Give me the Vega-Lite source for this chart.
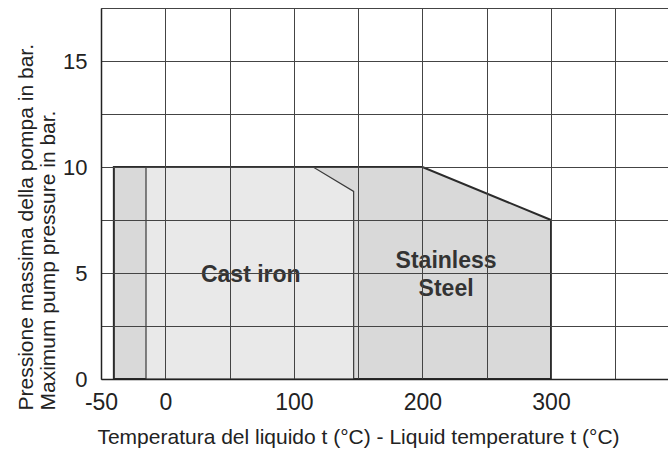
{
  "$schema": "https://vega.github.io/schema/vega-lite/v6.json",
  "width": 567,
  "height": 371,
  "autosize": "none",
  "padding": {"left": 101, "top": 8, "right": 0, "bottom": 71},
  "background": "white",
  "config": {"view": {"stroke": null}, "font": "Liberation Sans"},
  "datasets": {
    "regions": [
      {"material": "Stainless Steel", "t": -40, "p": 10},
      {"material": "Stainless Steel", "t": 200, "p": 10},
      {"material": "Stainless Steel", "t": 300, "p": 7.5},
      {"material": "Cast iron", "t": -15, "p": 10},
      {"material": "Cast iron", "t": 115, "p": 10},
      {"material": "Cast iron", "t": 146.5, "p": 8.85}
    ],
    "labels": [
      {"label": "Cast iron", "t": 66.5, "p": 4.59},
      {"label": "Stainless\nSteel", "t": 218.4, "p": 5.24}
    ]
  },
  "layer": [
    {
      "data": {"name": "regions"},
      "transform": [{"filter": "datum.material == 'Stainless Steel'"}],
      "mark": {"type": "area", "fill": "#d9d9d9", "stroke": "#2b2b2b", "strokeWidth": 2, "strokeJoin": "miter"},
      "encoding": {
        "x": {
          "field": "t", "type": "quantitative",
          "scale": {"domain": [-50, 391], "nice": false, "zero": false},
          "axis": {
            "values": [-50, 0, 50, 100, 150, 200, 250, 300, 350],
            "labelExpr": "(datum.value == -50 || datum.value % 100 == 0) ? ('' + datum.value) : ''",
            "grid": true, "gridColor": "#444", "gridOpacity": 1, "gridWidth": 1,
            "domainColor": "#222", "domainWidth": 1.5, "ticks": false,
            "labelFontSize": 23, "labelColor": "#222", "labelPadding": 12,
            "labelFlush": false, "labelOverlap": false, "labelBound": false,
            "title": "Temperatura del liquido t (°C) - Liquid temperature t (°C)",
            "titleFontSize": 21, "titleFontWeight": "normal", "titleColor": "#222",
            "titleX": 257, "titleY": 64, "titleAlign": "center", "titleBaseline": "alphabetic",
            "zindex": 1
          }
        },
        "y": {
          "field": "p", "type": "quantitative",
          "scale": {"domain": [0, 17.5], "nice": false},
          "axis": {
            "values": [0, 2.5, 5, 7.5, 10, 12.5, 15, 17.5],
            "labelExpr": "datum.value % 5 == 0 ? datum.label : ''",
            "grid": true, "gridColor": "#444", "gridOpacity": 1, "gridWidth": 1,
            "domainColor": "#222", "domainWidth": 1.5, "ticks": false,
            "labelFontSize": 22, "labelColor": "#222", "labelPadding": 14,
            "labelOverlap": false, "labelBound": false, "labelFlush": false,
            "title": ["Pressione massima della pompa in bar.", "Maximum pump pressure in bar."],
            "titleFontSize": 21, "titleFontWeight": "normal", "titleColor": "#222",
            "titleLineHeight": 22, "titleAngle": -90,
            "titleX": -69, "titleY": 402, "titleAlign": "left", "titleBaseline": "alphabetic",
            "zindex": 1
          }
        }
      }
    },
    {
      "data": {"name": "regions"},
      "transform": [{"filter": "datum.material == 'Cast iron'"}],
      "mark": {"type": "area", "fill": "#e9e9e9", "stroke": "#3a3a3a", "strokeWidth": 1.2, "strokeJoin": "miter"},
      "encoding": {
        "x": {"field": "t", "type": "quantitative"},
        "y": {"field": "p", "type": "quantitative"}
      }
    },
    {
      "data": {"name": "labels"},
      "mark": {"type": "text", "fontSize": 23, "fontWeight": "bold", "color": "#333", "align": "center", "baseline": "alphabetic", "lineBreak": "\n", "lineHeight": 28},
      "encoding": {
        "x": {"field": "t", "type": "quantitative"},
        "y": {"field": "p", "type": "quantitative"},
        "text": {"field": "label"}
      }
    }
  ]
}
